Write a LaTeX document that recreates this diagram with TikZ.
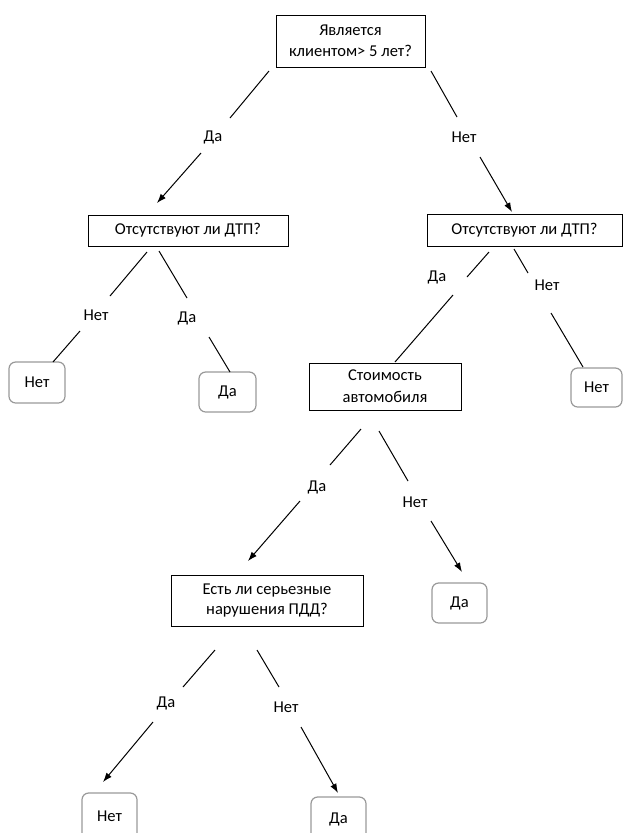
\documentclass[tikz,border=0pt]{standalone}
\usepackage{fontspec}
\setmainfont{Carlito}
\usetikzlibrary{arrows.meta}
\begin{document}
\begin{tikzpicture}[x=0.75pt,y=-0.75pt,
  every node/.style={font=\fontsize{12.4}{15}\selectfont},
  qbox/.style={draw=black, line width=0.75pt, align=center, inner sep=0pt},
  leaf/.style={draw=black!40, line width=0.9pt, rounded corners=5pt, inner sep=0pt, align=center},
  lbl/.style={inner sep=1pt},
  seg/.style={draw=black, line width=0.75pt},
  arr/.style={seg, -{Latex[length=7pt,width=5pt]}}]
\useasboundingbox (0,0) rectangle (624,833);
\clip (0,0) rectangle (624,833);
% decision boxes
\node[qbox, minimum width=111.75pt, minimum height=39pt, font=\fontsize{12.4}{15.5}\selectfont] (top) at (350.5,41) {Является\\клиентом> 5 лет?};
\node[qbox, minimum width=150pt, minimum height=23.25pt] (accL) at (188,230.5) {Отсутствуют ли ДТП?};
\node[qbox, minimum width=146.25pt, minimum height=24pt] (accR) at (524.5,230) {Отсутствуют ли ДТП?};
\node[qbox, minimum width=114pt, minimum height=35.25pt, font=\fontsize{12.4}{16.5}\selectfont] (cost) at (385,386.5) {Стоимость\\автомобиля};
\node[qbox, minimum width=144pt, minimum height=38.25pt, font=\fontsize{12.4}{14.5}\selectfont] (rules) at (267,600.5) {Есть ли серьезные\\нарушения ПДД?};
% leaves
\node[leaf, minimum width=42pt, minimum height=30.75pt] (lfA) at (37,382.5) {Нет};
\node[leaf, minimum width=42.75pt, minimum height=30pt] (lfB) at (227.5,392) {Да};
\node[leaf, minimum width=38.25pt, minimum height=29.25pt] (lfC) at (596.5,387.5) {Нет};
\node[leaf, minimum width=41.25pt, minimum height=30pt] (lfD) at (459.5,603) {Да};
\node[leaf, minimum width=41.25pt, minimum height=34.5pt] (lfE) at (109.5,816) {Нет};
\node[leaf, minimum width=41.25pt, minimum height=33pt] (lfF) at (338.5,819) {Да};
% labels
\node[lbl] (l1) at (213,137) {Да};
\node[lbl] (l2) at (464,137) {Нет};
\node[lbl] (l3) at (96,315) {Нет};
\node[lbl] (l4) at (187,318) {Да};
\node[lbl] (l5) at (437,277) {Да};
\node[lbl] (l6) at (547,285) {Нет};
\node[lbl] (l7) at (317,487) {Да};
\node[lbl] (l8) at (415,502) {Нет};
\node[lbl] (l9) at (166,703) {Да};
\node[lbl] (l10) at (286,707) {Нет};
% segment end points
\coordinate (a1) at (269,71);  \coordinate (a2) at (230,118);
\coordinate (a3) at (201,153); \coordinate (a4) at (157,203);
\coordinate (b1) at (431,71);  \coordinate (b2) at (457,117);
\coordinate (b3) at (480,157); \coordinate (b4) at (512,212);
\coordinate (c1) at (147,252); \coordinate (c2) at (110,296);
\coordinate (c3) at (80,331);  \coordinate (c4) at (53,362);
\coordinate (d1) at (159,251); \coordinate (d2) at (187,298);
\coordinate (d3) at (209,337); \coordinate (d4) at (230,372);
\coordinate (e1) at (489,252); \coordinate (e2) at (467,277);
\coordinate (e3) at (453,295); \coordinate (e4) at (395,362);
\coordinate (f1) at (514,249); \coordinate (f2) at (528,273);
\coordinate (f3) at (551,313); \coordinate (f4) at (583,367);
\coordinate (g1) at (361,429); \coordinate (g2) at (330,465);
\coordinate (g3) at (300,501); \coordinate (g4) at (248,561);
\coordinate (h1) at (379,431); \coordinate (h2) at (408,481);
\coordinate (h3) at (431,521); \coordinate (h4) at (462,572);
\coordinate (i1) at (215,650); \coordinate (i2) at (183,687);
\coordinate (i3) at (153,722); \coordinate (i4) at (103,782);
\coordinate (j1) at (257,650); \coordinate (j2) at (279,687);
\coordinate (j3) at (301,727); \coordinate (j4) at (338,793);
% connectors
\draw[seg] (a1) -- (a2); \draw[arr] (a3) -- (a4);
\draw[seg] (b1) -- (b2); \draw[arr] (b3) -- (b4);
\draw[seg] (c1) -- (c2); \draw[seg] (c3) -- (c4);
\draw[seg] (d1) -- (d2); \draw[seg] (d3) -- (d4);
\draw[seg] (e1) -- (e2); \draw[seg] (e3) -- (e4);
\draw[seg] (f1) -- (f2); \draw[seg] (f3) -- (f4);
\draw[seg] (g1) -- (g2); \draw[arr] (g3) -- (g4);
\draw[seg] (h1) -- (h2); \draw[arr] (h3) -- (h4);
\draw[seg] (i1) -- (i2); \draw[arr] (i3) -- (i4);
\draw[seg] (j1) -- (j2); \draw[arr] (j3) -- (j4);
\end{tikzpicture}
\end{document}
